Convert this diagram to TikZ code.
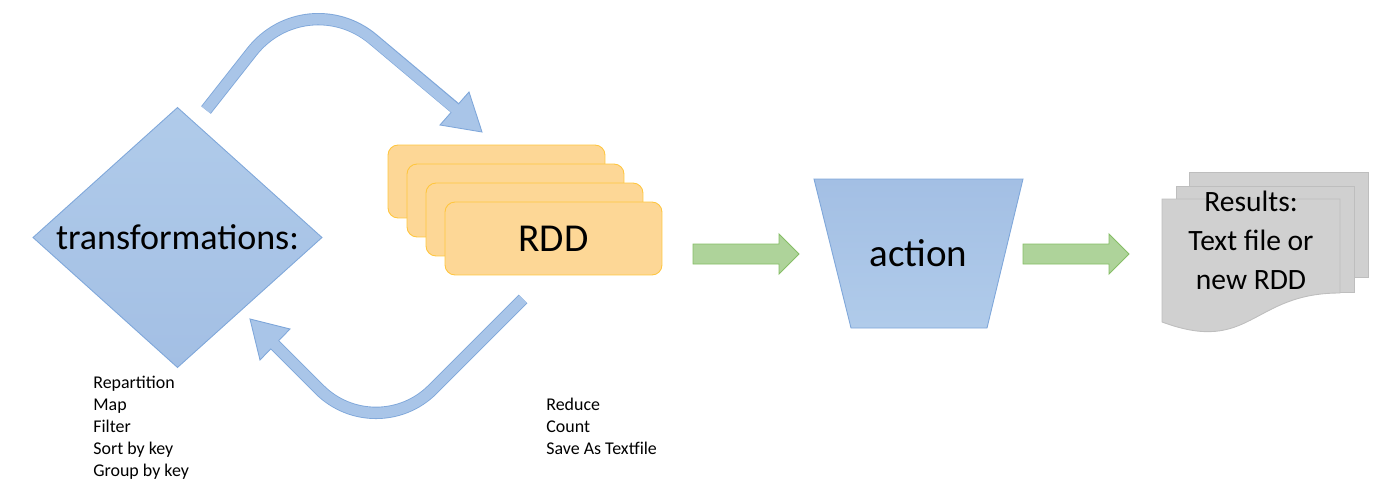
\documentclass[tikz,border=0pt]{standalone}
\usepackage{fontspec}
\setmainfont{Carlito}
\usetikzlibrary{shapes.geometric}

\definecolor{bluetop}{HTML}{B0CBEA}
\definecolor{bluebot}{HTML}{A3BFE4}
\definecolor{bluefill}{HTML}{A9C5E8}
\definecolor{blueline}{HTML}{7FA7DA}
\definecolor{rddfill}{HTML}{FDD796}
\definecolor{rddline}{HTML}{FFC63F}
\definecolor{greenfill}{HTML}{AED39A}
\definecolor{greenline}{HTML}{86BE66}
\definecolor{docfill}{HTML}{D0D0D0}
\definecolor{docline}{HTML}{BEBEBE}

\tikzset{
  bluebox/.style={draw=blueline, top color=bluetop, bottom color=bluebot, line width=0.5pt},
  rddbox/.style={rectangle, rounded corners=0.2cm, draw=rddline, fill=rddfill, line width=0.5pt,
    minimum width=4.34cm, minimum height=1.46cm, inner sep=0},
  flowarrow/.style={draw=greenline, fill=greenfill, line width=0.5pt},
  docbox/.style={draw=docline, fill=docfill, line width=0.5pt},
  loopedge/.style={draw=blueline, line width=7pt},
  loopfill/.style={draw=bluefill, line width=6pt},
  loophead/.style={draw=blueline, fill=bluefill, line width=0.5pt, line join=miter},
  listtext/.style={anchor=base west, inner sep=0, align=left, font=\fontsize{10.2pt}{12.5pt}\selectfont}
}

\begin{document}
\begin{tikzpicture}[x=0.02cm, y=-0.02cm]
	\useasboundingbox (0,0) rectangle (1379,500);

	% transformations
	\node (trans)		at (177.5,237.5) [diamond, bluebox, minimum width=5.78cm, minimum height=5.2cm, inner sep=0, outer sep=0] {};
	\node (translabel)	at (trans.center) [font=\fontsize{20.5pt}{24pt}\selectfont] {transformations:};

	% RDD stack
	\node (rdd0)		at (496.5,181.5) [rddbox] {};
	\node (rdd1)		at (515.5,200.5) [rddbox] {};
	\node (rdd2)		at (534.5,219.5) [rddbox] {};
	\node (rdd3)		at (553.5,238.5) [rddbox, font=\fontsize{22.5pt}{26pt}\selectfont] {RDD};

	% loop arrows
	\coordinate (upstart)	at (206,110);
	\coordinate (upbend)	at (306,-17);
	\coordinate (upend)		at (455,108);
	\coordinate (upfill)	at (458,111);
	\coordinate (downstart)	at (523,299);
	\coordinate (downbend)	at (376,446);
	\coordinate (downend)	at (275,345);
	\coordinate (downfill)	at (272,342);

	\draw[loopedge, rounded corners=1.75cm] (upstart) -- (upbend) -- (upend);
	\draw[loophead] (440,125) -- (482,132) -- (469,92) -- cycle;
	\draw[loopfill, rounded corners=1.75cm] (upstart) -- (upbend) -- (upfill);

	\draw[loopedge, rounded corners=1.6cm] (downstart) -- (downbend) -- (downend);
	\draw[loophead] (290,329) -- (250,319) -- (260,360) -- cycle;
	\draw[loopfill, rounded corners=1.6cm] (downstart) -- (downbend) -- (downfill);

	% action
	\draw[bluebox, top color=bluebot, bottom color=bluetop] (814,179) -- (1023,179) -- (987,328) -- (851,328) -- cycle;
	\node (action)		at (918.5,253.5) [font=\fontsize{22.2pt}{26pt}\selectfont] {action};

	% flow arrows
	\draw[flowarrow] (693,244) -- (779,244) -- (779,234) -- (799,254) -- (779,274) -- (779,264) -- (693,264) -- cycle;
	\draw[flowarrow] (1023,244) -- (1109,244) -- (1109,234) -- (1129,254) -- (1109,274) -- (1109,264) -- (1023,264) -- cycle;

	% results
	\draw[docbox] (1189,172) rectangle (1368,277);
	\draw[docbox] (1176,186) rectangle (1354,292);
	\draw[docbox] (1162,199) -- (1340,199) -- (1340,293) .. controls (1251,293) and (1251,355) .. (1162,322) -- cycle;
	\node (results)		at (1251,240) [align=center, font=\fontsize{16.8pt}{22.2pt}\selectfont] {Results:\\Text file or\\new RDD};

	% operation lists
	\node (translist)	at (93,476) [listtext] {Repartition\\Map\\Filter\\Sort by key\\Group by key};
	\node (actionlist)	at (546,454) [listtext] {Reduce\\Count\\Save As Textfile};
\end{tikzpicture}
\end{document}
